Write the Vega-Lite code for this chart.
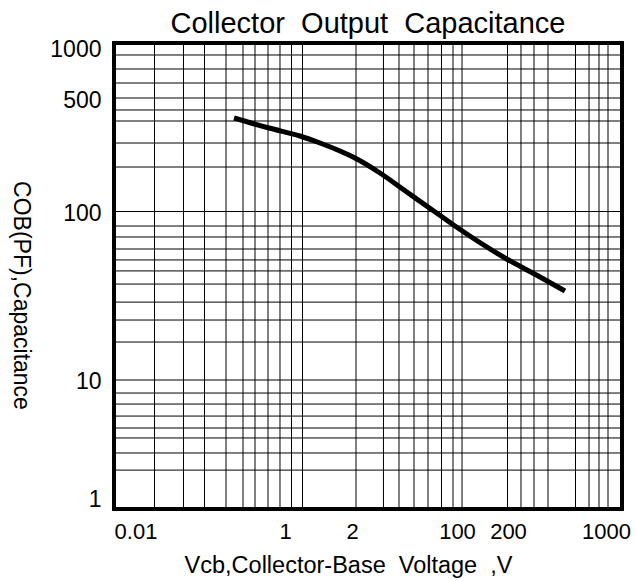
{
  "$schema": "https://vega.github.io/schema/vega-lite/v6.json",
  "width": 508,
  "height": 466,
  "autosize": {"type": "none"},
  "padding": {"left": 114, "top": 43, "right": 14, "bottom": 72},
  "background": "white",
  "config": {
    "view": {"stroke": "black", "strokeWidth": 4},
    "font": "Liberation Sans",
    "axis": {
      "grid": false, "domain": false, "ticks": false, "tickSize": 0,
      "labelFont": "Liberation Sans", "labelColor": "black", "labelOverlap": false, "labelFlush": false,
      "titleFont": "Liberation Sans", "titleFontWeight": "normal", "titleColor": "black"
    }
  },
  "title": {
    "text": "Collector\u00a0 Output\u00a0 Capacitance",
    "font": "Liberation Sans",
    "fontSize": 29,
    "fontWeight": "normal",
    "color": "black",
    "anchor": "middle",
    "frame": "group",
    "offset": 0
  },
  "datasets": {
    "xgrid": [
      {"vcb": 0.2084}, {"vcb": 0.3525}, {"vcb": 0.516}, {"vcb": 0.762}, {"vcb": 1.037},
      {"vcb": 1.289}, {"vcb": 1.632}, {"vcb": 2.028}, {"vcb": 2.498}, {"vcb": 3.05},
      {"vcb": 8.047}, {"vcb": 13.24}, {"vcb": 17.54}, {"vcb": 23.03}, {"vcb": 29.68},
      {"vcb": 37.9}, {"vcb": 46.7}, {"vcb": 54.99}, {"vcb": 125.5}, {"vcb": 160.2},
      {"vcb": 202.8}, {"vcb": 261.4}, {"vcb": 430.4}, {"vcb": 549.9}, {"vcb": 659.0},
      {"vcb": 775.9}
    ],
    "ygrid": [
      {"cob": 848.9}, {"cob": 701}, {"cob": 578.9}, {"cob": 471.6}, {"cob": 400.4},
      {"cob": 344.4}, {"cob": 255}, {"cob": 183.7}, {"cob": 100}, {"cob": 82.0},
      {"cob": 70.6}, {"cob": 59.9}, {"cob": 51.6}, {"cob": 44.4}, {"cob": 37.1},
      {"cob": 29.0}, {"cob": 22.7}, {"cob": 16.8}, {"cob": 10}, {"cob": 8.37},
      {"cob": 7.2}, {"cob": 6.11}, {"cob": 5.19}, {"cob": 4.53}, {"cob": 3.69},
      {"cob": 2.92}
    ],
    "curve": [
      {"vcb": 0.881, "cob": 358.8},
      {"vcb": 1.661, "cob": 313.0},
      {"vcb": 2.915, "cob": 280.6},
      {"vcb": 4.188, "cob": 255.0},
      {"vcb": 6.019, "cob": 228.6},
      {"vcb": 7.899, "cob": 207.7},
      {"vcb": 12.43, "cob": 169.3},
      {"vcb": 19.21, "cob": 134.2},
      {"vcb": 35.57, "cob": 96.6},
      {"vcb": 48.42, "cob": 82.0},
      {"vcb": 119.9, "cob": 52.97},
      {"vcb": 226.1, "cob": 40.86},
      {"vcb": 355.7, "cob": 33.75}
    ]
  },
  "layer": [
    {
      "data": {"name": "curve"},
      "mark": {"type": "line", "color": "black", "strokeWidth": 5, "interpolate": "monotone"},
      "encoding": {
        "x": {
          "field": "vcb", "type": "quantitative",
          "scale": {"type": "log", "domain": [0.1, 1000], "nice": false},
          "axis": {
            "title": "Vcb,Collector-Base\u00a0 Voltage\u00a0 ,V",
            "values": [0.1477, 2.221, 7.482, 50.22, 126.6, 748.2],
            "labelExpr": "datum.value < 0.5 ? '0.01' : datum.value < 4 ? '1' : datum.value < 20 ? '2' : datum.value < 90 ? '100' : datum.value < 300 ? '200' : '1000'",
            "labelPadding": 12, "labelFontSize": 22, "labelBaseline": "top",
            "titleFontSize": 23.5, "titleBaseline": "alphabetic", "titleAlign": "center",
            "titleX": 234, "titleY": 63
          }
        },
        "y": {
          "field": "cob", "type": "quantitative",
          "scale": {"type": "log", "domain": [1.716, 1000], "nice": false},
          "axis": {
            "title": "COB(PF),Capacitance",
            "values": [908.9, 458.8, 97.97, 9.797, 1.967],
            "labelExpr": "datum.value > 700 ? '1000' : datum.value > 300 ? '500' : datum.value > 50 ? '100' : datum.value > 5 ? '10' : '1'",
            "labelPadding": 13, "labelFontSize": 23, "labelBaseline": "middle",
            "titleFontSize": 23, "titleAngle": 90, "titleBaseline": "alphabetic",
            "titleAlign": "center", "titleX": -101, "titleY": 252
          }
        }
      }
    },
    {
      "data": {"name": "xgrid"},
      "mark": {"type": "rule", "color": "black", "strokeWidth": 1},
      "encoding": {
        "x": {
          "field": "vcb", "type": "quantitative",
          "scale": {"type": "log", "domain": [0.1, 1000], "nice": false},
          "axis": {
            "title": "Vcb,Collector-Base\u00a0 Voltage\u00a0 ,V",
            "values": [0.1477, 2.221, 7.482, 50.22, 126.6, 748.2],
            "labelExpr": "datum.value < 0.5 ? '0.01' : datum.value < 4 ? '1' : datum.value < 20 ? '2' : datum.value < 90 ? '100' : datum.value < 300 ? '200' : '1000'",
            "labelPadding": 12, "labelFontSize": 22, "labelBaseline": "top",
            "titleFontSize": 23.5, "titleBaseline": "alphabetic", "titleAlign": "center",
            "titleX": 234, "titleY": 63
          }
        }
      }
    },
    {
      "data": {"name": "ygrid"},
      "mark": {"type": "rule", "color": "black", "strokeWidth": 1},
      "encoding": {
        "y": {
          "field": "cob", "type": "quantitative",
          "scale": {"type": "log", "domain": [1.716, 1000], "nice": false},
          "axis": {
            "title": "COB(PF),Capacitance",
            "values": [908.9, 458.8, 97.97, 9.797, 1.967],
            "labelExpr": "datum.value > 700 ? '1000' : datum.value > 300 ? '500' : datum.value > 50 ? '100' : datum.value > 5 ? '10' : '1'",
            "labelPadding": 13, "labelFontSize": 23, "labelBaseline": "middle",
            "titleFontSize": 23, "titleAngle": 90, "titleBaseline": "alphabetic",
            "titleAlign": "center", "titleX": -101, "titleY": 252
          }
        }
      }
    }
  ]
}
